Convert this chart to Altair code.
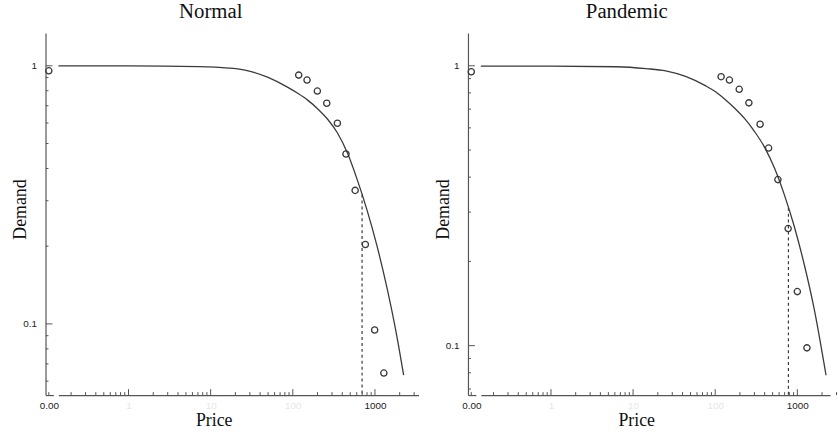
import altair as alt
import pandas as pd

# ---------------- data ----------------
# Normal panel
normal_zero_demand = 0.956
normal_price = [118, 149, 199, 259, 349, 444, 574, 764, 992, 1283]
normal_demand = [0.920, 0.880, 0.798, 0.716, 0.599, 0.455, 0.329, 0.203, 0.0947, 0.0645]
normal_curve_price = [0.14, 1, 7.17, 16.5, 28.7, 50.0, 87.1, 114.9, 151.7, 200, 264, 348.5,
                      460, 607, 801, 1057, 1395, 1841, 2235]
normal_curve_demand = [0.999, 0.999, 0.993, 0.980, 0.956, 0.901, 0.825, 0.782, 0.736, 0.682,
                       0.622, 0.550, 0.461, 0.363, 0.276, 0.201, 0.1387, 0.0901, 0.0633]
normal_pmax = 697
normal_pmax_demand = 0.317

# Pandemic panel
pandemic_zero_demand = 0.952
pandemic_price = [118, 149, 196, 257, 352, 447, 580, 773, 1000, 1309]
pandemic_demand = [0.914, 0.889, 0.824, 0.737, 0.618, 0.508, 0.392, 0.262, 0.156, 0.0982]
pandemic_curve_price = [0.14, 1, 6.24, 14.35, 25.0, 43.5, 75.8, 100, 132, 174, 230, 303, 400,
                        528, 697, 920, 1214, 1603, 2236]
pandemic_curve_demand = [0.998, 0.997, 0.992, 0.977, 0.959, 0.916, 0.849, 0.809, 0.758, 0.704,
                         0.646, 0.581, 0.511, 0.430, 0.345, 0.266, 0.195, 0.1354, 0.0784]
pandemic_pmax = 779
pandemic_pmax_demand = 0.311

# axis tick values
x_major = [1, 10, 100, 1000]
x_minor = [0.2, 0.3, 0.4, 0.5, 0.6, 0.7, 0.8, 0.9,
           2, 3, 4, 5, 6, 7, 8, 9,
           20, 30, 40, 50, 60, 70, 80, 90,
           200, 300, 400, 500, 600, 700, 800, 900,
           2000, 3000]
y_major = [0.1, 1]
y_minor = [0.06, 0.07, 0.08, 0.09, 0.2, 0.3, 0.4, 0.5, 0.6, 0.7, 0.8, 0.9]

# ---------------- styling ----------------
PLOT_H = 366
SERIF = "Liberation Serif"
SANS = "Liberation Sans"
INK = "#3a3a3a"
AXIS = "#555555"


def panel(title, zero_demand, price, demand, c_price, c_demand, pmax, pmax_d,
          x_dom, y_dom, log_w, title_dx):
    yscale = alt.Scale(type="log", domain=y_dom)
    xscale = alt.Scale(type="log", domain=x_dom)

    pts = pd.DataFrame({"Price": price, "Demand": demand})
    curve = pd.DataFrame({"Price": c_price, "Demand": c_demand})
    pm = pd.DataFrame({"Price": [pmax], "Demand": [pmax_d]})
    xmaj = pd.DataFrame({"Price": x_major})
    xmin = pd.DataFrame({"Price": x_minor})

    x_axis = alt.Axis(
        values=x_major, format="d", ticks=False, grid=False,
        domainColor=AXIS, domainWidth=1.2,
        labelColor={"condition": {"test": "datum.value == 1000", "value": "#222222"},
                    "value": "#e6e6e6"},
        labelPadding=6, labelFont=SANS, labelFontSize=10, labelFlush=False,
        title="Price", titleFont=SERIF, titleFontSize=18, titleFontWeight="normal",
        titleColor="#111111", titleX=157, titlePadding=1,
    )
    bx = alt.X("Price:Q", scale=xscale, axis=x_axis)
    by = alt.Y("Demand:Q", scale=yscale, axis=None)

    line = alt.Chart(curve).mark_line(color=INK, strokeWidth=1.3,
                                      interpolate="monotone").encode(x=bx, y=by)
    dots = alt.Chart(pts).mark_point(shape="circle", filled=False, color=INK, size=40,
                                     strokeWidth=1.3, opacity=1).encode(x=bx, y=by)
    dashed = alt.Chart(pm).mark_rule(color=INK, strokeWidth=1.2, strokeDash=[3, 3]).encode(
        x=bx, y=by, y2=alt.value(PLOT_H))
    tmaj = alt.Chart(xmaj).mark_rule(color=AXIS, strokeWidth=1).encode(
        x=bx, y=alt.value(PLOT_H), y2=alt.value(PLOT_H - 6))
    tmin = alt.Chart(xmin).mark_rule(color=AXIS, strokeWidth=1).encode(
        x=bx, y=alt.value(PLOT_H), y2=alt.value(PLOT_H - 3))
    log_chart = alt.layer(line, dots, dashed, tmaj, tmin).properties(width=log_w, height=PLOT_H)

    # x = 0 segment with the y axis
    zdf = pd.DataFrame({"Price": [0.0], "Demand": [zero_demand]})
    zx = alt.X("Price:Q", scale=alt.Scale(domain=[-1, 1.4]),
               axis=alt.Axis(values=[0], format=".2f", ticks=False, grid=False,
                             domainColor=AXIS, domainWidth=1.2, labelFont=SANS,
                             labelFontSize=10, labelColor="#222222", labelPadding=6,
                             labelFlush=False, title=None))
    y_axis = alt.Axis(values=y_major, format="~g", ticks=False, grid=False,
                      domainColor=AXIS, domainWidth=1.2, labelFont=SANS, labelFontSize=10,
                      labelColor="#222222", labelPadding=9,
                      title="Demand", titleFont=SERIF, titleFontSize=18,
                      titleFontWeight="normal", titleColor="#111111",
                      titleX=-25, titleY=178, titleBaseline="middle", titleAlign="center",
                      titleAngle=270)
    zy = alt.Y("Demand:Q", scale=yscale, axis=y_axis)
    zpt = alt.Chart(zdf).mark_point(shape="circle", filled=False, color=INK, size=40,
                                    strokeWidth=1.3, opacity=1).encode(x=zx, y=zy)
    ymaj = alt.Chart(pd.DataFrame({"Demand": y_major})).mark_rule(
        color=AXIS, strokeWidth=1, clip=True).encode(y=zy, x=alt.value(0), x2=alt.value(7))
    ymin = alt.Chart(pd.DataFrame({"Demand": y_minor})).mark_rule(
        color=AXIS, strokeWidth=1, clip=True).encode(y=zy, x=alt.value(0), x2=alt.value(3))
    ztick = alt.Chart(zdf).mark_rule(color=AXIS, strokeWidth=1).encode(
        x=zx, y=alt.value(PLOT_H), y2=alt.value(PLOT_H - 3))
    zero_chart = alt.layer(zpt, ymaj, ymin, ztick).properties(width=8, height=PLOT_H)

    return alt.hconcat(zero_chart, log_chart, spacing=5, bounds="flush").properties(
        title=alt.TitleParams(title, font=SERIF, fontSize=21, fontWeight="normal",
                              anchor="middle", dx=title_dx, color="#111111", offset=11))


left = panel("Normal", normal_zero_demand, normal_price, normal_demand,
             normal_curve_price, normal_curve_demand, normal_pmax, normal_pmax_demand,
             [0.14, 3390], [0.053, 1.34], 364, -4.5)
right = panel("Pandemic", pandemic_zero_demand, pandemic_price, pandemic_demand,
              pandemic_curve_price, pandemic_curve_demand, pandemic_pmax, pandemic_pmax_demand,
              [0.14, 2505], [0.0666, 1.31], 353, -9)

chart = alt.hconcat(left, right, spacing=14).properties(
    padding={"left": 11, "top": -2, "right": 0, "bottom": -3}
).configure_view(stroke="transparent")

chart.save("out.html", embed_options={"renderer": "svg", "actions": False})
